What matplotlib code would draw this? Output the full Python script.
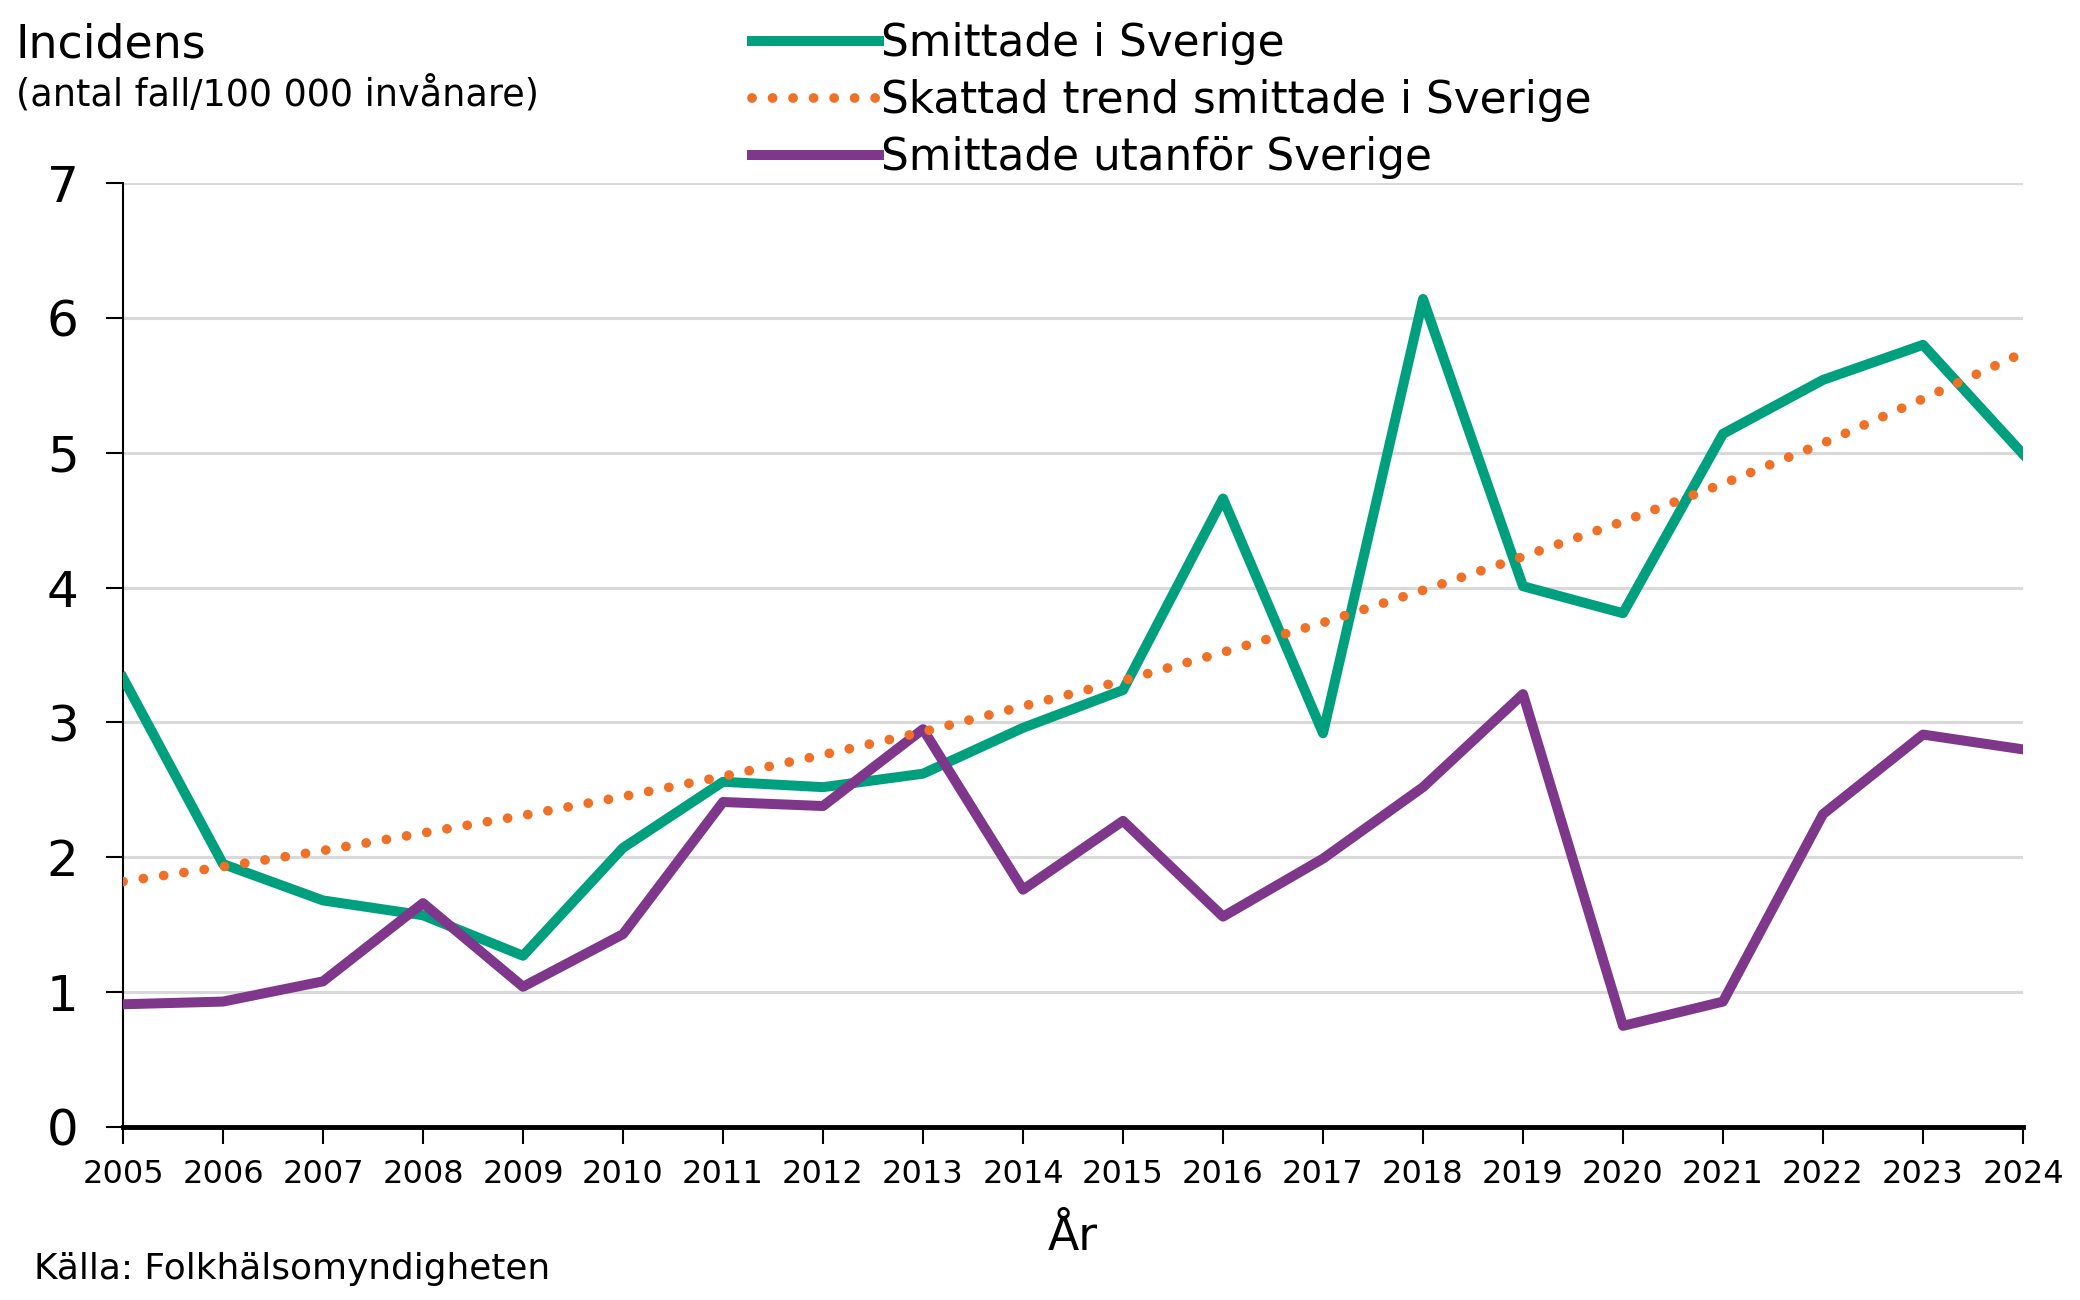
import numpy as np
import matplotlib
matplotlib.use('Agg')
import matplotlib.pyplot as plt

plt.rcParams['font.family'] = ['DejaVu Sans']

# data
years = list(range(2005, 2025))
smittade_sverige = [3.33, 1.95, 1.68, 1.57, 1.27, 2.07, 2.56, 2.52, 2.62, 2.96,
                    3.24, 4.66, 2.92, 6.14, 4.01, 3.81, 5.14, 5.54, 5.80, 4.99]
trend_sverige = [1.82, 1.93, 2.05, 2.18, 2.31, 2.45, 2.60, 2.76, 2.93, 3.12,
                 3.31, 3.52, 3.74, 3.98, 4.23, 4.49, 4.77, 5.07, 5.40, 5.74]
smittade_utanfor = [0.91, 0.93, 1.08, 1.66, 1.04, 1.43, 2.41, 2.38, 2.95, 1.76,
                    2.27, 1.56, 1.99, 2.52, 3.21, 0.75, 0.93, 2.32, 2.91, 2.80]
yticks = [0, 1, 2, 3, 4, 5, 6, 7]

green = '#00A07F'
orange = '#EE7127'
purple = '#7F378B'

W, H = 2080, 1300
fig = plt.figure(figsize=(W / 100, H / 100), dpi=100)
ax = fig.add_axes([123 / W, 1 - 1127 / H, 1900 / W, 944 / H])

ax.plot(years, smittade_sverige, c=green, lw=7.2, solid_joinstyle='round',
        label='Smittade i Sverige', zorder=3)
ax.plot(years, trend_sverige, c=orange, lw=7, ls=(0, (0.01, 2.1)),
        dash_capstyle='round', label='Skattad trend smittade i Sverige', zorder=4)
ax.plot(years, smittade_utanfor, c=purple, lw=7.2, solid_joinstyle='round',
        label='Smittade utanför Sverige', zorder=3)

ax.set_xlim(2005, 2024)
ax.set_ylim(0, 7)
ax.set_xticks(years)
ax.set_yticks(yticks)
ax.tick_params(axis='x', labelsize=23, length=12, width=1.5, pad=11, direction='out')
ax.tick_params(axis='y', labelsize=36, length=12, width=1.5, pad=20, direction='out')

ax.grid(axis='y', color='#D9D9D9', lw=2.2, zorder=0)
ax.set_axisbelow(True)
for s in ['top', 'right']:
    ax.spines[s].set_visible(False)
ax.spines['left'].set_linewidth(1.5)
ax.spines['bottom'].set_linewidth(3.5)
ax.spines['bottom'].set_zorder(5)

ax.set_xlabel('År', fontsize=33, labelpad=18)

fig.text(16 / W, 1 - 22 / H, 'Incidens', fontsize=33, va='top', ha='left')
fig.text(16 / W, 1 - 76 / H, '(antal fall/100 000 invånare)', fontsize=26.3,
         va='top', ha='left')
fig.text(34 / W, 1 - 1252 / H, 'Källa: Folkhälsomyndigheten', fontsize=25.8,
         va='top', ha='left')

fig.legend(loc='upper left', bbox_to_anchor=(752 / W, 1 - 22 / H), frameon=False,
           fontsize=31.5, handlelength=2.9, handletextpad=0.05, labelspacing=0.32,
           borderpad=0, borderaxespad=0)

fig.savefig('out.png', dpi=100)
